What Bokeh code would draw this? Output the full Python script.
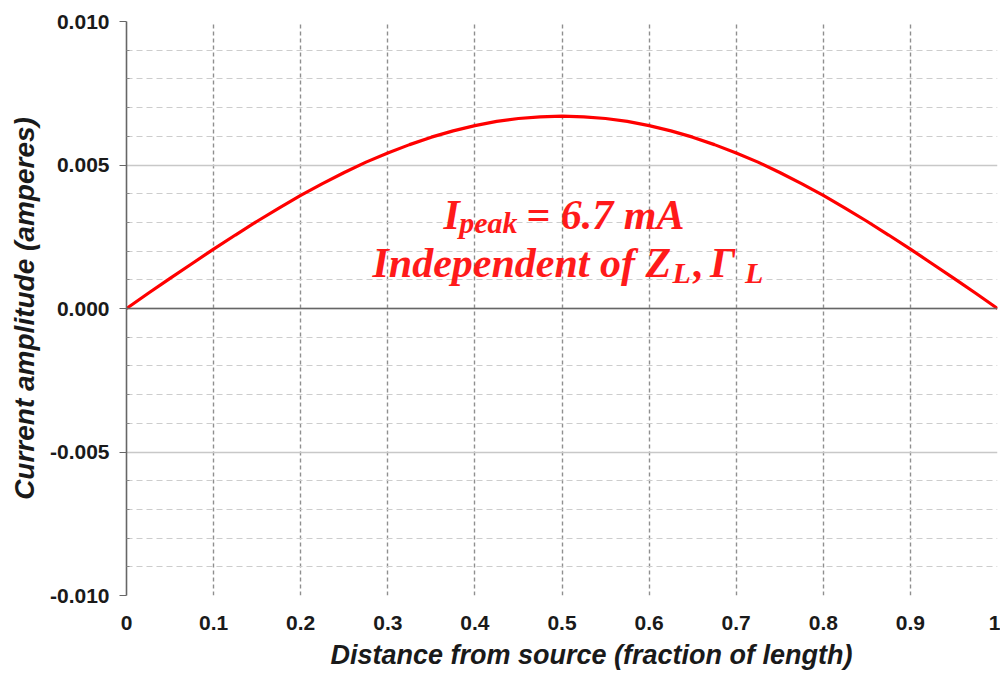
from bokeh.plotting import figure
from bokeh.models import FixedTicker, Span, Label, Range1d, CustomJSTickFormatter, Title
from bokeh.embed import file_html
from bokeh.resources import INLINE

# distance (fraction of length) and current amplitude (A)
x_pos = [0.000, 0.025, 0.050, 0.075, 0.100, 0.125, 0.150, 0.175, 0.200, 0.225,
         0.250, 0.275, 0.300, 0.325, 0.350, 0.375, 0.400, 0.425, 0.450, 0.475,
         0.500, 0.525, 0.550, 0.575, 0.600, 0.625, 0.650, 0.675, 0.700, 0.725,
         0.750, 0.775, 0.800, 0.825, 0.850, 0.875, 0.900, 0.925, 0.950, 0.975, 1.000]
current = [0.00000, 0.00053, 0.00105, 0.00156, 0.00207, 0.00256, 0.00304, 0.00350,
           0.00394, 0.00435, 0.00474, 0.00510, 0.00542, 0.00571, 0.00597, 0.00619,
           0.00637, 0.00652, 0.00662, 0.00668, 0.00670, 0.00668, 0.00662, 0.00652,
           0.00637, 0.00619, 0.00597, 0.00571, 0.00542, 0.00510, 0.00474, 0.00435,
           0.00394, 0.00350, 0.00304, 0.00256, 0.00207, 0.00156, 0.00105, 0.00053,
           0.00000]

x_ticks = [0.0, 0.1, 0.2, 0.3, 0.4, 0.5, 0.6, 0.7, 0.8, 0.9, 1.0]
x_tick_labels = ["0", "0.1", "0.2", "0.3", "0.4", "0.5", "0.6", "0.7", "0.8", "0.9", "1"]
y_major = [-0.010, -0.005, 0.000, 0.005, 0.010]
y_minor = [-0.009, -0.008, -0.007, -0.006, -0.004, -0.003, -0.002, -0.001,
           0.001, 0.002, 0.003, 0.004, 0.006, 0.007, 0.008, 0.009]

p = figure(width=1000, height=679, output_backend="svg", toolbar_location=None,
           x_range=Range1d(0, 1), y_range=Range1d(-0.010, 0.010),
           min_border_left=126, min_border_right=3, min_border_top=21, min_border_bottom=84)
p.outline_line_color = None
p.background_fill_color = "white"

# grids
p.xgrid.ticker = FixedTicker(ticks=x_ticks[1:])
p.xgrid.grid_line_color = "#8f8f8f"
p.xgrid.grid_line_dash = "4 3"
p.xgrid.grid_line_width = 1.4
p.ygrid.ticker = FixedTicker(ticks=y_major, minor_ticks=y_minor)
p.ygrid.grid_line_color = "#c8c8c8"
p.ygrid.grid_line_width = 1.4
p.ygrid.minor_grid_line_color = "#cdcdcd"
p.ygrid.minor_grid_line_dash = "6 4"
p.ygrid.minor_grid_line_width = 1.2

# zero line
p.add_layout(Span(location=0, dimension="width", line_color="#666666", line_width=1.6))

# axes
p.xaxis.ticker = FixedTicker(ticks=x_ticks)
p.xaxis.major_label_overrides = {t: l for t, l in zip(x_ticks, x_tick_labels)}
p.xaxis.axis_line_color = None
p.xaxis.major_tick_line_color = None
p.xaxis.minor_tick_line_color = None
p.xaxis.major_label_standoff = 14
p.xaxis.major_label_text_font = "Liberation Sans"
p.xaxis.major_label_text_font_style = "bold"
p.xaxis.major_label_text_font_size = "21px"
p.xaxis.major_label_text_color = "#1a1a1a"

p.yaxis.ticker = FixedTicker(ticks=y_major, minor_ticks=y_minor)
p.yaxis.formatter = CustomJSTickFormatter(code="return tick.toFixed(3);")
p.yaxis.axis_line_color = "#666666"
p.yaxis.axis_line_width = 1.6
p.yaxis.major_tick_line_color = "#666666"
p.yaxis.major_tick_in = 0
p.yaxis.major_tick_out = 7
p.yaxis.minor_tick_line_color = "#888888"
p.yaxis.minor_tick_in = 3
p.yaxis.minor_tick_out = 0
p.yaxis.major_label_standoff = 10
p.yaxis.major_label_text_font = "Liberation Sans"
p.yaxis.major_label_text_font_style = "bold"
p.yaxis.major_label_text_font_size = "21px"
p.yaxis.major_label_text_color = "#1a1a1a"
p.yaxis.axis_label = "Current amplitude (amperes)"
p.yaxis.axis_label_text_font = "Liberation Sans"
p.yaxis.axis_label_text_font_style = "bold italic"
p.yaxis.axis_label_text_font_size = "28px"
p.yaxis.axis_label_text_color = "#1a1a1a"
p.yaxis.axis_label_standoff = 7

# x-axis title (offset to the right, as in the original)
p.add_layout(Title(text="Distance from source (fraction of length)",
                   text_font="Liberation Sans", text_font_style="bold italic",
                   text_font_size="27px", text_color="#1a1a1a",
                   align="left", offset=204, standoff=11, vertical_align="bottom"), "below")

# curve
p.line(x_pos, current, line_color="#ff0000", line_width=3.2)

# annotation
red = "#ff1a1a"
def lab(x, y, t, size):
    p.add_layout(Label(x=x, y=y, text=t, text_font="Liberation Serif",
                       text_font_style="bold italic", text_font_size=size,
                       text_color=red, text_baseline="alphabetic", text_align="left"))

lab(0.364, 0.00327, "I", "42px")
lab(0.382, 0.00299, "peak", "30px")
lab(0.459, 0.00327, "= 6.7 mA", "42px")
lab(0.2824, 0.00160, "Independent of Z", "42px")
lab(0.627, 0.00127, "L", "30px")
lab(0.651, 0.00160, ",", "42px")
lab(0.670, 0.00160, "\u0393", "42px")
lab(0.710, 0.00127, "L", "30px")

open("out.html", "w").write(file_html(p, INLINE))
